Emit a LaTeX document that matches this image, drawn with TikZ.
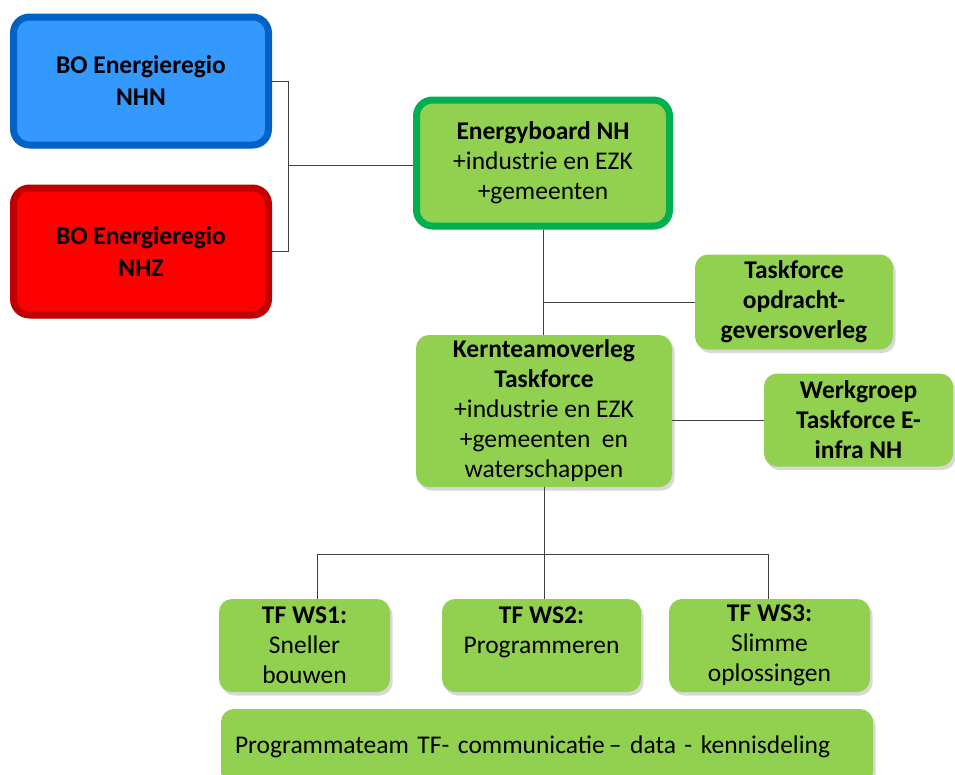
\documentclass[tikz,border=0pt]{standalone}
\usepackage{fontspec}
\setmainfont{Carlito}
\usetikzlibrary{shadows}
\definecolor{gfill}{HTML}{92D050}
\definecolor{gline}{HTML}{00B050}
\definecolor{bfill}{HTML}{3399FF}
\definecolor{bline}{HTML}{0062C4}
\definecolor{rfill}{HTML}{FF0000}
\definecolor{rline}{HTML}{C00000}
\definecolor{conn}{HTML}{404040}
\tikzset{
  base/.style={rounded corners=13pt, align=center, inner sep=0pt,
    font=\fontsize{25.5}{30}\selectfont,
    drop shadow={shadow xshift=2.5pt, shadow yshift=-3.5pt, opacity=0.22, fill=black!70}},
  gbox/.style={base, fill=gfill},
  thickbox/.style={base, line width=7pt, rounded corners=16pt},
  link/.style={draw=conn, line width=1pt},
}
\begin{document}
\begin{tikzpicture}[x=1pt,y=-1pt]
\useasboundingbox (0,0) rectangle (955,774);
% top-left
\node[thickbox, draw=bline, fill=bfill, minimum width=255pt, minimum height=128pt,
  font=\fontsize{25.5}{32}\selectfont\bfseries] (nhn) at (141,81) {BO Energieregio\\NHN};
\node[thickbox, draw=rline, fill=rfill, minimum width=255pt, minimum height=127pt,
  font=\fontsize{25.5}{32}\selectfont\bfseries] (nhz) at (141,251.5) {BO Energieregio\\NHZ};
\node[thickbox, draw=gline, fill=gfill, minimum width=253pt, minimum height=126pt] (eb) at (543,163)
  {\textbf{Energyboard NH}\\+industrie en EZK\\+gemeenten};
\node[gbox, minimum width=198pt, minimum height=95pt] (tf) at (794,302)
  {\textbf{Taskforce}\\\textbf{opdracht-}\\\textbf{geversoverleg}};
\node[gbox, minimum width=256pt, minimum height=152pt] (kt) at (544,411)
  {\textbf{Kernteamoverleg}\\\textbf{Taskforce}\\+industrie en EZK\\+gemeenten\ \ en\\waterschappen};
\node[gbox, minimum width=189pt, minimum height=93pt] (wg) at (858.5,420)
  {\textbf{Werkgroep}\\\textbf{Taskforce E-}\\\textbf{infra NH}};
\node[gbox, minimum width=171pt, minimum height=93pt] (ws1) at (304.5,645.5)
  {\textbf{TF WS1:}\\Sneller\\bouwen};
\node[gbox, minimum width=199pt, minimum height=93pt] (ws2) at (541.5,645.5)
  {\textbf{TF WS2:}\\Programmeren\\\phantom{b}};
\node[gbox, minimum width=201pt, minimum height=93pt] (ws3) at (769.5,645.5)
  {\textbf{TF WS3:}\\Slimme\\oplossingen};
\node[gbox, minimum width=652pt, minimum height=76pt, text width=624pt, align=left] (pt) at (547,747)
  {Programmateam TF- communicatie\,– data - kennisdeling};
% connectors
\coordinate (j1) at (288,165);
\draw[link] (nhn.east) -- ++(16,0) |- (nhz.east);
\draw[link] (j1) -- (j1 -| eb.west);
\draw[link] (eb.south) -- (eb.south |- kt.north);
\draw[link] (tf.west) -- (tf.west -| eb.south);
\draw[link] (wg.west) -- (wg.west -| kt.east);
\draw[link] (kt.south) -- (kt.south |- ws2.north);
\draw[link] ([xshift=12.5pt]ws1.north) -- ++(0,-44) -| ([xshift=-1.5pt]ws3.north);
\end{tikzpicture}
\end{document}
